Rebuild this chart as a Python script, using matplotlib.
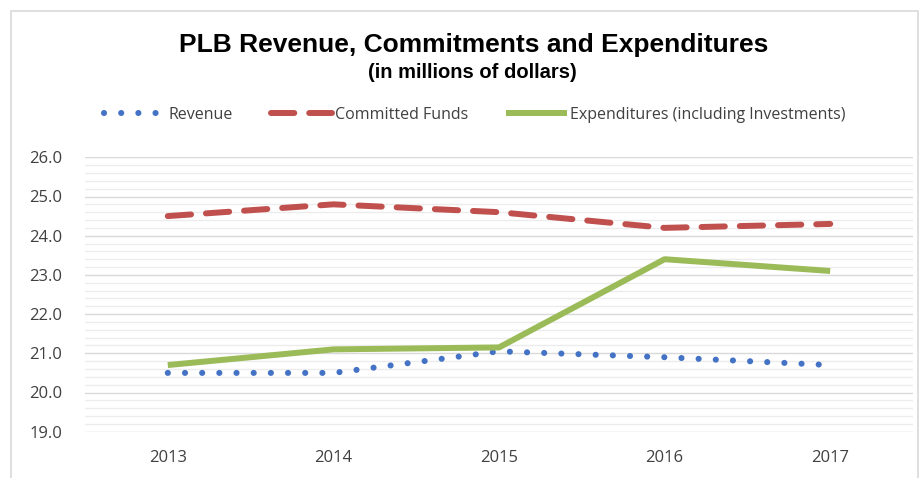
import matplotlib
matplotlib.use("Agg")
import matplotlib.pyplot as plt
from matplotlib.patches import Rectangle
from matplotlib.ticker import MultipleLocator

years = ["2013", "2014", "2015", "2016", "2017"]
revenue = [20.5, 20.5, 21.05, 20.9, 20.7]
committed = [24.5, 24.8, 24.6, 24.2, 24.3]
expenditures = [20.7, 21.1, 21.15, 23.4, 23.1]
y_ticks = [19.0, 20.0, 21.0, 22.0, 23.0, 24.0, 25.0, 26.0]

W, H = 923, 478
fig = plt.figure(figsize=(W / 100, H / 100), dpi=100)
fig.patch.set_facecolor("white")

# chart border
fig.add_artist(Rectangle((11 / W, -0.05), (918 - 11) / W, (H - 11) / H + 0.05,
                         transform=fig.transFigure, fill=False,
                         edgecolor="#d9d9d9", linewidth=1.2))

ax = fig.add_axes([85 / W, (H - 431.7) / H, (913 - 85) / W, (431.7 - 157.3) / H])
x = list(range(len(years)))

ax.plot(x, revenue, color="#4472C4", lw=4.4, linestyle=(0, (0.01, 2.8)),
        dash_capstyle="round", label="Revenue", zorder=3)
ax.plot(x, committed, color="#C0504D", lw=4.3, linestyle=(0, (3.9, 2.5)),
        dash_capstyle="round", label="Committed Funds", zorder=3)
ax.plot(x, expenditures, color="#9BBB59", lw=4.3, solid_capstyle="butt",
        label="Expenditures (including Investments)", zorder=3)

ax.set_xlim(-0.5, len(years) - 0.5)
ax.set_ylim(19, 26)
ax.set_xticks(x)
ax.set_xticklabels(years, fontsize=12, color="#404040", family="Open Sans")
ax.set_yticks(y_ticks)
ax.set_yticklabels([f"{v:.1f}" for v in y_ticks], fontsize=12, color="#404040",
                   family="Open Sans")
ax.yaxis.set_minor_locator(MultipleLocator(0.2))
ax.grid(which="major", axis="y", color="#d9d9d9", lw=1.0)
ax.grid(which="minor", axis="y", color="#ececec", lw=1.0)
ax.tick_params(axis="both", which="both", length=0)
ax.tick_params(axis="y", pad=40)
ax.tick_params(axis="x", pad=13)
for lab in ax.get_yticklabels():
    lab.set_horizontalalignment("left")
for s in ax.spines.values():
    s.set_visible(False)
ax.set_axisbelow(True)

fig.text(474 / W, 1 - 45 / H, "PLB Revenue, Commitments and Expenditures",
         ha="center", va="center", fontsize=19, fontweight="bold",
         family="Liberation Sans", color="black")
fig.text(472 / W, 1 - 72.5 / H, "(in millions of dollars)",
         ha="center", va="center", fontsize=14.5, fontweight="bold",
         family="Liberation Sans", color="black")

leg = fig.legend(loc="center", bbox_to_anchor=(475 / W, 1 - 115 / H), ncol=3,
                 frameon=False, handlelength=3.8, handletextpad=0.2,
                 columnspacing=2.4, prop={"family": "Open Sans", "size": 11.5})
for t in leg.get_texts():
    t.set_color("#404040")

fig.savefig("out.png", dpi=100)
